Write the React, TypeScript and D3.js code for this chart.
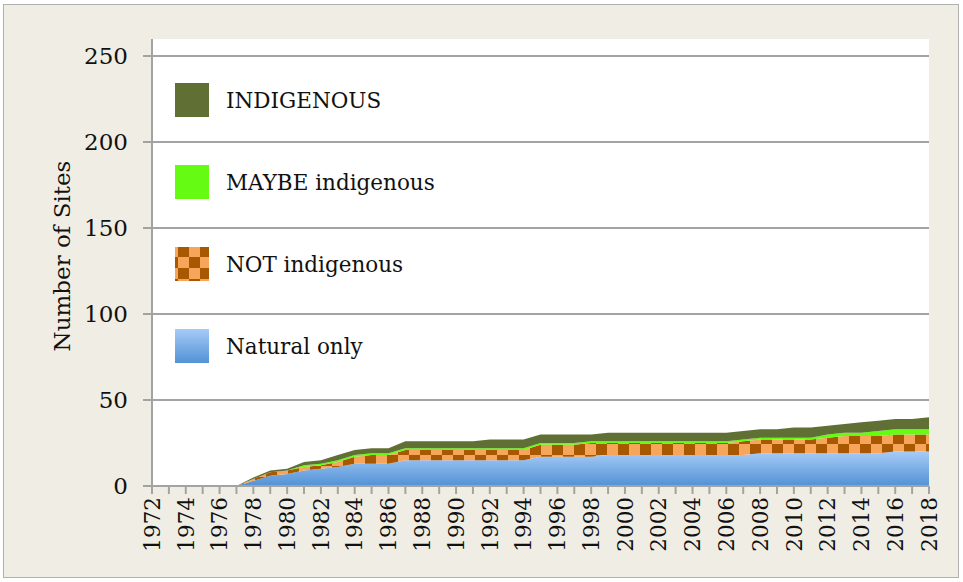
import React from 'react'
import * as d3 from 'd3'

// years on the x axis
const years = [
  1972, 1973, 1974, 1975, 1976, 1977, 1978, 1979, 1980, 1981, 1982, 1983, 1984, 1985, 1986, 1987,
  1988, 1989, 1990, 1991, 1992, 1993, 1994, 1995, 1996, 1997, 1998, 1999, 2000, 2001, 2002, 2003,
  2004, 2005, 2006, 2007, 2008, 2009, 2010, 2011, 2012, 2013, 2014, 2015, 2016, 2017, 2018,
]

// series, bottom to top of the stack
const naturalOnly = [
  0, 0, 0, 0, 0, 0, 3, 6, 7, 9, 10, 11, 13, 13, 13, 15,
  15, 15, 15, 15, 15, 15, 15, 17, 17, 17, 17, 18, 18, 18, 18, 18,
  18, 18, 18, 18, 19, 19, 19, 19, 19, 19, 19, 19, 20, 20, 20,
]
const notIndigenous = [
  0, 0, 0, 0, 0, 0, 1, 2, 2, 2, 2, 3, 4, 5, 5, 6,
  6, 6, 6, 6, 6, 6, 6, 7, 7, 7, 8, 7, 7, 7, 7, 7,
  7, 7, 7, 8, 8, 8, 8, 8, 9, 10, 10, 10, 10, 10, 10,
]
const maybeIndigenous = [
  0, 0, 0, 0, 0, 0, 0, 0, 0, 1, 1, 1, 1, 1, 1, 1,
  1, 1, 1, 1, 1, 1, 1, 1, 1, 1, 1, 1, 1, 1, 1, 1,
  1, 1, 1, 1, 1, 1, 1, 1, 2, 2, 2, 3, 3, 3, 3,
]
const indigenous = [
  0, 0, 0, 0, 0, 0, 1, 1, 1, 2, 2, 3, 3, 3, 3, 4,
  4, 4, 4, 4, 5, 5, 5, 5, 5, 5, 4, 5, 5, 5, 5, 5,
  5, 5, 5, 5, 5, 5, 6, 6, 5, 5, 6, 6, 6, 6, 7,
]

const yTicks = [0, 50, 100, 150, 200, 250]
const xTickLabels = years.filter((y) => y % 2 === 0)

const keys = ['natural', 'not', 'maybe', 'indigenous']
const legendItems = [
  { key: 'indigenous', label: 'INDIGENOUS' },
  { key: 'maybe', label: 'MAYBE indigenous' },
  { key: 'not', label: 'NOT indigenous' },
  { key: 'natural', label: 'Natural only' },
]
const fills: Record<string, string> = {
  natural: 'url(#blueGrad)',
  not: 'url(#checker)',
  maybe: '#66fb12',
  indigenous: '#607034',
}

const W = 963
const H = 582
const margin = { top: 56, right: 34, bottom: 96, left: 152 }
const serif = "'DejaVu Serif', 'Liberation Serif', serif"

const App = () => {
  const rows = years.map((yr, i) => ({
    year: yr,
    natural: naturalOnly[i],
    not: notIndigenous[i],
    maybe: maybeIndigenous[i],
    indigenous: indigenous[i],
  }))
  const stacked = d3.stack<any>().keys(keys)(rows)

  const x = d3.scaleLinear().domain([1972, 2018]).range([margin.left, W - margin.right])
  const y = d3.scaleLinear().domain([0, 250]).range([H - margin.bottom, margin.top])
  const area = d3
    .area<any>()
    .x((d) => x(d.data.year))
    .y0((d) => y(d[0]))
    .y1((d) => y(d[1]))

  const plotTop = 39
  const plotRight = x(2018)
  const axisColor = '#a3a3a3'

  return (
    <svg width={W} height={H} style={{ position: 'absolute', left: 0, top: 0 }}>
      <defs>
        <linearGradient id='blueGrad' x1='0' y1='0' x2='0' y2='1'>
          <stop offset='0' stopColor='#a6cbf7' />
          <stop offset='1' stopColor='#5292d6' />
        </linearGradient>
        <pattern id='checker' patternUnits='userSpaceOnUse' width={22} height={22} x={2} y={4}>
          <rect width={22} height={22} fill='#f7a55a' />
          <rect width={11} height={11} fill='#a85800' />
          <rect x={11} y={11} width={11} height={11} fill='#a85800' />
        </pattern>
      </defs>

      {/* outer frame */}
      <rect x={3.5} y={4.5} width={955} height={573} fill='#f0ede5' stroke='#b0b0b0' />
      {/* plot area */}
      <rect x={margin.left} y={plotTop} width={plotRight - margin.left} height={y(0) - plotTop} fill='#fff' />

      {/* gridlines */}
      {yTicks
        .filter((t) => t > 0)
        .map((t) => (
          <line key={t} x1={margin.left - 9} x2={plotRight} y1={y(t)} y2={y(t)} stroke={axisColor} strokeWidth={2} />
        ))}

      {/* areas */}
      {stacked.map((s) => (
        <path key={s.key} d={area(s) || ''} fill={fills[s.key]} />
      ))}

      {/* axes */}
      <line x1={margin.left} x2={margin.left} y1={plotTop} y2={y(0) + 1} stroke={axisColor} strokeWidth={2} />
      <line x1={margin.left - 9} x2={plotRight} y1={y(0)} y2={y(0)} stroke={axisColor} strokeWidth={2} />
      {years.map((yr) => (
        <line key={yr} x1={x(yr)} x2={x(yr)} y1={y(0)} y2={y(0) + 8} stroke={axisColor} strokeWidth={2} />
      ))}

      {yTicks.map((t) => (
        <text key={t} x={128} y={y(t)} dy='0.36em' textAnchor='end' fontFamily={serif} fontSize={23} fill='#111'>
          {t}
        </text>
      ))}
      {xTickLabels.map((yr) => (
        <text
          key={yr}
          transform={`translate(${x(yr)},${y(0) + 11}) rotate(-90)`}
          dy='0.36em'
          textAnchor='end'
          fontFamily={serif}
          fontSize={21.5}
          fill='#111'
        >
          {yr}
        </text>
      ))}

      <text
        transform={`translate(62,${(y(0) + y(250)) / 2 - 15}) rotate(-90)`}
        dy='0.36em'
        textAnchor='middle'
        fontFamily={serif}
        fontSize={23}
        fill='#111'
      >
        Number of Sites
      </text>

      {/* legend */}
      {legendItems.map((it, i) => {
        const cy = 100 + i * 82
        return (
          <g key={it.key}>
            <rect x={175} y={cy - 17} width={34} height={34} fill={fills[it.key]} />
            <text x={226} y={cy} dy='0.36em' fontFamily={serif} fontSize={21.5} fill='#111'>
              {it.label}
            </text>
          </g>
        )
      })}
    </svg>
  )
}

export default App
